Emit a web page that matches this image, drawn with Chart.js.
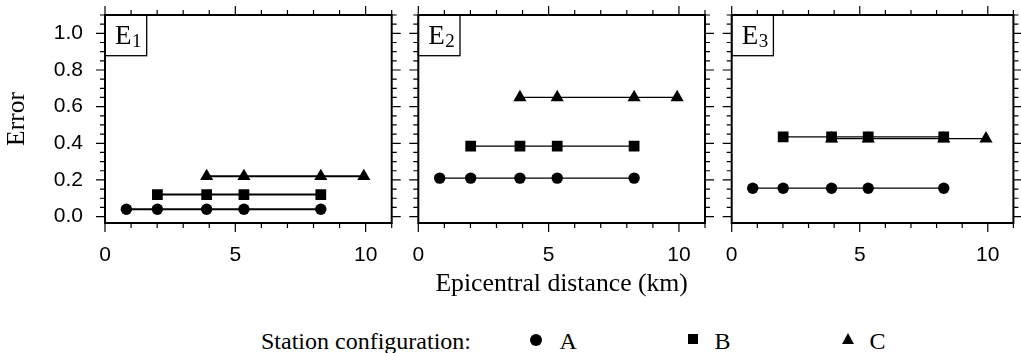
<!DOCTYPE html>
<html>
<head>
<meta charset="utf-8">
<script src="https://cdn.jsdelivr.net/npm/chart.js@4.4.0/dist/chart.umd.min.js"></script>
<style>
body { margin:0; background:#fff; width:1021px; height:353px; position:relative; overflow:hidden; }
.panel { position:absolute; top:0; height:300px; }
.lt { position:absolute; top:329px; font-family:"Liberation Serif", serif; font-size:24px; line-height:24px; color:#000; white-space:nowrap; }
.mk { position:absolute; }
.mk.circle { width:12px; height:12px; border-radius:50%; background:#000; top:334px; }
.mk.rect { width:10px; height:10px; background:#000; top:334px; }
.mk.triangle { width:0; height:0; border-left:6.5px solid transparent; border-right:6.5px solid transparent; border-bottom:11px solid #000; top:333px; }
</style>
</head>
<body>
<div class="panel" style="left:0;width:402px"><canvas id="c0"></canvas></div>
<div class="panel" style="left:405px;width:310px"><canvas id="c1"></canvas></div>
<div class="panel" style="left:718px;width:303px"><canvas id="c2"></canvas></div>
<div id="legend"></div>
<script>
// events (subscript of E), station configurations
var events = ['1', '2', '3'];
var configs = ['A', 'B', 'C'];

// epicentral distance of the stations used in each configuration (km)
var distA = [0.82, 2.01, 3.9, 5.33, 8.28];
var distB = [2.01, 3.9, 5.33, 8.28];
var distC = [3.9, 5.33, 8.28, 9.93];

// error per event (one row per event E1, E2, E3)
var errA = [
    [0.04, 0.04, 0.04, 0.04, 0.04],
    [0.21, 0.21, 0.21, 0.21, 0.21],
    [0.155, 0.155, 0.155, 0.155, 0.155]
];
var errB = [
    [0.12, 0.12, 0.12, 0.12],
    [0.385, 0.385, 0.385, 0.385],
    [0.435, 0.435, 0.435, 0.435]
];
var errC = [
    [0.22, 0.22, 0.22, 0.22],
    [0.65, 0.65, 0.65, 0.65],
    [0.425, 0.425, 0.425, 0.425]
];

var xTickLabels = ['0', '5', '10'];

/*frame, minor ticks and event label*/
var framePlugin = {
    id: 'frame',
    afterDraw: function(chart, args, opts) {
        var ctx = chart.ctx, a = chart.chartArea;
        var xs = chart.scales.x, ys = chart.scales.y;
        ctx.save();
        ctx.strokeStyle = '#000';
        ctx.lineWidth = 1.2;
        ctx.beginPath();
        for (var i = 0; i <= 11; i++) {
            var px = xs.getPixelForValue(i);
            var len = i % 5 === 0 ? 9 : 5;
            ctx.moveTo(px, a.bottom); ctx.lineTo(px, a.bottom + len);
            ctx.moveTo(px, a.top); ctx.lineTo(px, a.top - len);
        }
        for (var j = 0; j <= 22; j++) {
            var py = ys.getPixelForValue(j * 0.05);
            var l2 = j % 4 === 0 ? 9 : 5;
            ctx.moveTo(a.left, py); ctx.lineTo(a.left - l2, py);
            ctx.moveTo(a.right, py); ctx.lineTo(a.right + l2, py);
        }
        ctx.stroke();
        ctx.lineWidth = 2;
        ctx.strokeRect(a.left, a.top, a.right - a.left, a.bottom - a.top);
        // E label box
        ctx.lineWidth = 1.3;
        ctx.strokeRect(a.left, a.top, 41.7, 40.7);
        ctx.fillStyle = '#000';
        ctx.textBaseline = 'alphabetic';
        ctx.font = '27px "Liberation Serif"';
        ctx.fillText('E', a.left + 10, a.top + 29);
        ctx.font = '19px "Liberation Serif"';
        ctx.fillText(opts.sub, a.left + 27, a.top + 32);
        ctx.restore();
    }
};

var pads = [
    {left: 0, top: 15, right: 10.3, bottom: 0},
    {left: 13.3, top: 15, right: 10, bottom: 0},
    {left: 13.7, top: 15, right: 2.6, bottom: 0}
];
var lineWidths = [2, 1.2, 1.2];

function points(dist, err) {
    return dist.map(function(d, i) { return {x: d, y: err[i]}; });
}

function makeChart(p) {
    var first = p === 0;
    var lw = lineWidths[p];
    function ds(label, dist, err, style, r) {
        return {
            label: label,
            data: points(dist, err),
            showLine: true,
            borderColor: '#000',
            borderWidth: lw,
            pointStyle: style,
            pointRadius: r,
            pointBorderWidth: 0,
            pointBackgroundColor: '#000'
        };
    }
    return new Chart(document.getElementById('c' + p), {
        type: 'scatter',
        data: {
            datasets: [
                ds(configs[0], distA, errA[p], 'circle', 5.7),
                ds(configs[1], distB, errB[p], 'rect', 7.6),
                ds(configs[2], distC, errC[p], 'triangle', 7.6)
            ]
        },
        options: {
            responsive: true,
            maintainAspectRatio: false,
            animation: false,
            layout: { padding: pads[p] },
            plugins: {
                legend: { display: false },
                tooltip: { enabled: false },
                frame: { sub: events[p] }
            },
            scales: {
                x: {
                    type: 'linear',
                    min: 0,
                    max: 11,
                    grid: { display: false, drawTicks: false },
                    border: { display: false },
                    ticks: {
                        stepSize: 5,
                        includeBounds: false,
                        autoSkip: false,
                        maxRotation: 0,
                        padding: 20,
                        color: '#000',
                        font: { family: 'Liberation Sans', size: 21 },
                        callback: function(v) { return xTickLabels[v / 5]; }
                    },
                    title: {
                        display: p === 1,
                        text: 'Epicentral distance (km)',
                        color: '#000',
                        padding: 0,
                        font: { family: 'Liberation Serif', size: 25.7 }
                    },
                    afterFit: function(s) { s.height = 77; s.paddingLeft = 0; s.paddingRight = 0; }
                },
                y: {
                    type: 'linear',
                    display: first,
                    min: -0.035,
                    max: 1.1,
                    grid: { display: false, drawTicks: false },
                    border: { display: false },
                    ticks: {
                        stepSize: 0.2,
                        includeBounds: false,
                        padding: 22,
                        color: '#000',
                        font: { family: 'Liberation Sans', size: 21 },
                        callback: function(v) { return v.toFixed(1); }
                    },
                    title: {
                        display: first,
                        text: 'Error',
                        color: '#000',
                        padding: { top: 2, bottom: 0 },
                        font: { family: 'Liberation Serif', size: 25.5 }
                    },
                    afterFit: function(s) { if (first) s.width = 105; s.paddingTop = 0; s.paddingBottom = 0; }
                }
            }
        },
        plugins: [framePlugin]
    });
}

for (var p = 0; p < events.length; p++) makeChart(p);

/*legend*/
var legend = document.getElementById('legend');
var markStyles = ['circle', 'rect', 'triangle'];
var markLeft = [530, 687.5, 841.5];
var textLeft = [559.5, 714.5, 869.5];
var html = '<span class="lt" style="left:261px">Station configuration:</span>';
for (var k = 0; k < configs.length; k++) {
    html += '<span class="mk ' + markStyles[k] + '" style="left:' + markLeft[k] + 'px"></span>';
    html += '<span class="lt" style="left:' + textLeft[k] + 'px">' + configs[k] + '</span>';
}
legend.innerHTML = html;
</script>
</body>
</html>
